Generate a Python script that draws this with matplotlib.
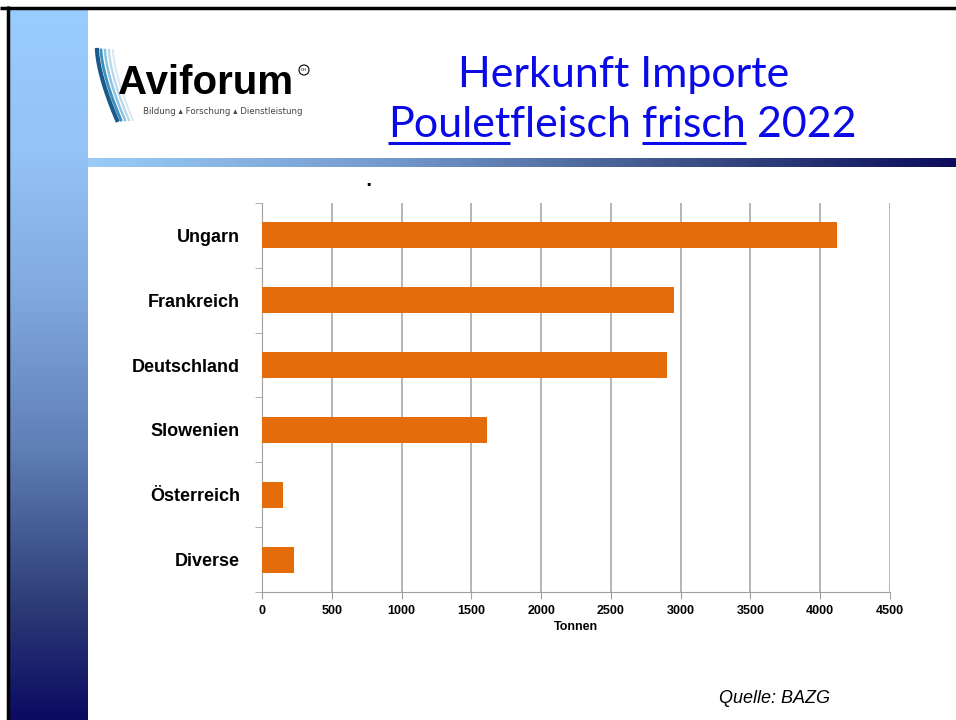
import numpy as np
import matplotlib
matplotlib.use("Agg")
import matplotlib.pyplot as plt
from matplotlib.colors import LinearSegmentedColormap
from matplotlib.patches import Circle

# data
countries = ["Ungarn", "Frankreich", "Deutschland", "Slowenien", "Österreich", "Diverse"]
tonnen = [4120, 2950, 2900, 1615, 150, 230]
xticks = [0, 500, 1000, 1500, 2000, 2500, 3000, 3500, 4000, 4500]

W, H = 956, 720
fig = plt.figure(figsize=(W / 100, H / 100), dpi=100)
fig.patch.set_facecolor("white")

def px(x0, y0, x1, y1):
    # pixel box (top-left origin) -> figure fraction rect
    return [x0 / W, 1 - y1 / H, (x1 - x0) / W, (y1 - y0) / H]

# left gradient band
side = LinearSegmentedColormap.from_list(
    "side", [(0, "#99ccff"), (0.2, "#94c3f6"), (0.4, "#80a9e0"),
             (0.62, "#5f7fb5"), (0.83, "#2f3f78"), (1, "#0b0b62")])
ax_side = fig.add_axes(px(10, 9, 88, 720))
ax_side.imshow(np.linspace(0, 1, 256).reshape(-1, 1), aspect="auto", cmap=side,
               extent=[0, 1, 1, 0])
ax_side.axis("off")

# gradient line under title
bar_cm = LinearSegmentedColormap.from_list(
    "bar", [(0, "#9accf8"), (0.35, "#7399cc"), (0.7, "#3a4f85"), (1, "#0c0c5c")])
ax_line = fig.add_axes(px(88, 158, 956, 167))
ax_line.imshow(np.linspace(0, 1, 256).reshape(1, -1), aspect="auto", cmap=bar_cm)
ax_line.axis("off")

# black frame top/left
ax_frame = fig.add_axes([0, 0, 1, 1], facecolor="none")
ax_frame.set_xlim(0, W)
ax_frame.set_ylim(H, 0)
ax_frame.axis("off")
ax_frame.plot([0, W], [7.5, 7.5], color="black", lw=2.5, solid_capstyle="butt")
ax_frame.plot([8.5, 8.5], [6, H], color="black", lw=2.5, solid_capstyle="butt")

# logo
for dx, c, lw in [(0, "#1a5a8a", 3.0), (4, "#3a8fc0", 2.0), (8, "#8cc4e0", 1.8),
                  (12, "#b8d8ea", 1.6), (16, "#d8e8f2", 1.4)]:
    t = np.linspace(0, 1, 30)
    xs = 97 + dx + 20 * t ** 1.5
    ys = 50 + 70 * t
    ax_frame.plot(xs, ys, color=c, lw=lw)
ax_frame.text(118, 94, "Aviforum", fontsize=29, fontweight="bold", color="black",
              family="Liberation Sans", ha="left", va="baseline")
ax_frame.text(143, 114, "Bildung \u25b4 Forschung \u25b4 Dienstleistung", fontsize=6.2,
              color="#444444", ha="left", va="baseline", family="DejaVu Sans")
ax_frame.add_patch(Circle((304, 70), 5, fill=False, ec="black", lw=0.8))
ax_frame.text(304, 70, "CH", fontsize=3.2, ha="center", va="center")

# title
tcol = "#0a0ae8"
tfont = dict(family="Lato", fontsize=31, fontweight="normal", color=tcol, va="baseline")
ax_frame.text(624, 87, "Herkunft Importe", ha="center", **tfont)

fig.canvas.draw()
r = fig.canvas.get_renderer()
pieces = [("Poulet", True), ("fleisch ", False), ("frisch", True), (" 2022", False)]
xcur = 388
for s, ul in pieces:
    t = ax_frame.text(xcur, 137, s, ha="left", **tfont)
    w = t.get_window_extent(r).width
    if ul:
        ax_frame.plot([xcur, xcur + w], [143, 143], color=tcol, lw=2.2, solid_capstyle="butt")
    xcur += w

# chart
ax = fig.add_axes(px(262, 203, 890, 592))
y = np.arange(len(countries))
ax.barh(y, tonnen, height=0.4, color="#e46c0a", zorder=3)
ax.set_xlim(0, 4500)
ax.set_ylim(len(countries) - 0.5, -0.5)
ax.set_xticks(xticks)
ax.set_xticklabels([str(v) for v in xticks], fontweight="bold", fontsize=9,
                   family="Liberation Sans")
ax.set_yticks(y)
ax.set_yticklabels(countries, fontweight="bold", fontsize=13, family="Liberation Sans")
ax.set_yticks(np.arange(-0.5, len(countries)), minor=True)
ax.tick_params(axis="y", which="major", length=0, pad=16)
ax.tick_params(axis="y", which="minor", length=5, color="#a0a0a0", direction="out")
ax.tick_params(axis="x", length=5, color="#a0a0a0", direction="out", pad=4)
ax.grid(axis="x", color="#b0b0b0", lw=1.3, zorder=0)
for s in ["top", "right"]:
    ax.spines[s].set_visible(False)
for s in ["left", "bottom"]:
    ax.spines[s].set_color("#a0a0a0")
ax.set_xlabel("Tonnen", fontweight="bold", fontsize=9, family="Liberation Sans", labelpad=3)

ax_frame.text(368, 186, ".", fontsize=12, fontweight="bold", ha="center", va="baseline")
ax_frame.text(775, 703, "Quelle: BAZG", fontsize=13, style="italic", ha="center",
              va="baseline", family="Liberation Sans")

fig.savefig("out.png", dpi=100)
